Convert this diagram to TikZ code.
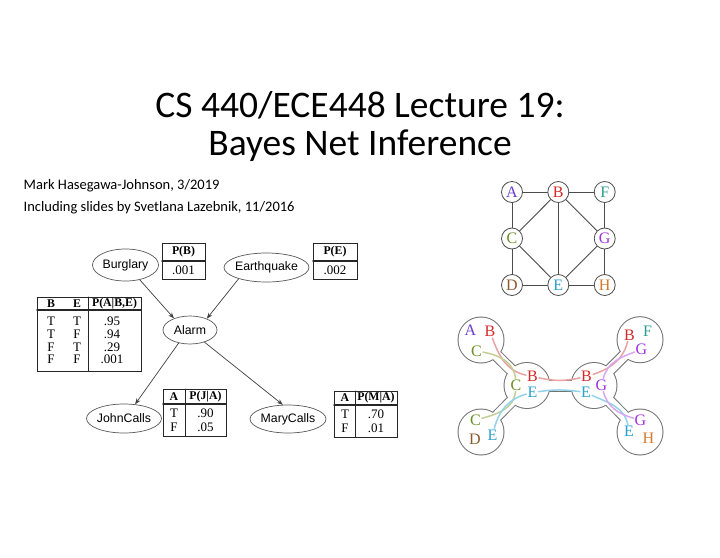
\documentclass[tikz,border=0pt]{standalone}
\usepackage{fontspec}
\setmainfont{Carlito}
\newfontfamily\bnsans{Liberation Sans}
\newfontfamily\bnserif{Liberation Serif}
\usetikzlibrary{arrows.meta,shapes.geometric}

\definecolor{letA}{HTML}{6A3FD0}
\definecolor{letB}{HTML}{D42A2A}
\definecolor{letC}{HTML}{6B8E23}
\definecolor{letD}{HTML}{8B5A2B}
\definecolor{letE}{HTML}{2AA0D0}
\definecolor{letF}{HTML}{2A9D8F}
\definecolor{letG}{HTML}{A030E0}
\definecolor{letH}{HTML}{D9782A}
\definecolor{pathB}{HTML}{E9A3A3}
\definecolor{pathC}{HTML}{C3CE95}
\definecolor{pathE}{HTML}{93D3EA}
\definecolor{pathG}{HTML}{D9A6F2}

\tikzset{
  bnvar/.style={ellipse, draw=black!65, line width=0.7pt, inner xsep=-1.5pt, inner ysep=0pt,
    font=\bnsans\fontsize{12.3}{14}\selectfont},
  bnarrow/.style={-{Stealth[length=6pt,width=4.5pt]}, black!75, line width=0.7pt},
  cpt/.style={draw=black!85, line width=0.8pt},
  cpthead/.style={inner sep=0pt, font=\bnserif\bfseries\fontsize{11.8}{12}\selectfont},
  cptval/.style={inner sep=0pt, font=\bnserif\fontsize{13}{12.7}\selectfont},
  mrfnode/.style={circle, draw=black!70, line width=0.8pt, fill=white, minimum size=21pt,
    inner sep=0pt, font=\bnserif\fontsize{16}{16}\selectfont},
  mrfedge/.style={black!70, line width=0.9pt},
  jtlet/.style={inner sep=1pt, font=\bnserif\fontsize{16}{16}\selectfont},
  jtpath/.style={line width=1.5pt, line cap=round},
}

\begin{document}
\begin{tikzpicture}[x=1pt, y=-1pt, line cap=round]
\useasboundingbox (0,0) rectangle (720,557);
\fill[white] (0,0) rectangle (720,557);

% --- titulo ---
\node[anchor=base, inner sep=0pt, font=\fontsize{37.5}{38}\selectfont] (title1) at (360,117) {CS 440/ECE448 Lecture 19:};
\node[anchor=base, inner sep=0pt, font=\fontsize{37.5}{38}\selectfont] (title2) at (360,155) {Bayes Net Inference};
\node[anchor=base west, inner sep=0pt, font=\fontsize{14.5}{16}\selectfont] (author) at (23.5,189) {Mark Hasegawa-Johnson, 3/2019};
\node[anchor=base west, inner sep=0pt, font=\fontsize{14.5}{16}\selectfont] (credit) at (23.5,211) {Including slides by Svetlana Lazebnik, 11/2016};

% --- red bayesiana ---
\node[bnvar, minimum width=66pt, minimum height=32pt] (burglary) at (125.5,265) {Burglary};
\node[bnvar, minimum width=85pt, minimum height=29pt] (earthquake) at (266.5,267.5) {Earthquake};
\node[bnvar, minimum width=54pt, minimum height=28pt] (alarm) at (190,330) {Alarm};
\node[bnvar, minimum width=75pt, minimum height=29pt] (johncalls) at (124,418.5) {JohnCalls};
\node[bnvar, minimum width=76pt, minimum height=28pt] (marycalls) at (288,419) {MaryCalls};
% flechas
\draw[bnarrow] (burglary.-46) -- (alarm.144);
\draw[bnarrow] (earthquake.202) -- (alarm.34);
\draw[bnarrow] (alarm.229) -- (johncalls.52);
\draw[bnarrow] (alarm.-40) -- (marycalls.110);

% --- tablas de probabilidad ---
\draw[cpt] (162,243) rectangle (205,279);
\draw[cpt, line width=1.4pt] (162,261) -- (205,261);
\node[cpthead] (pbhead) at (183.5,252) {P(B)};
\node[cptval] (pbval) at (183.5,270.5) {.001};

\draw[cpt] (313,243) rectangle (357,279);
\draw[cpt, line width=1.4pt] (313,261) -- (357,261);
\node[cpthead] (pehead) at (335,252) {P(E)};
\node[cptval] (peval) at (335,270.5) {.002};

\draw[cpt] (37,297) rectangle (141,371);
\draw[cpt, line width=1.4pt] (37,310) -- (141,310);
\draw[cpt] (88,297) -- (88,371);
\node[cpthead] (pahb) at (51,304) {B};
\node[cpthead] (pahe) at (77,304) {E};
\node[cpthead] (pahead) at (114.5,304) {P(A|B,E)};
\foreach \b/\e/\p [count=\i] in {T/T/.95, T/F/.94, F/T/.29, F/F/.001} {
  \node[cptval] (pab\i) at (51,309+12.6*\i) {\b};
  \node[cptval] (pae\i) at (77,309+12.6*\i) {\e};
  \node[cptval] (pap\i) at (112,309+12.6*\i) {\p};
}

\draw[cpt] (163,389) rectangle (226,436);
\draw[cpt, line width=1.4pt] (163,404) -- (226,404);
\draw[cpt] (185,389) -- (185,436);
\node[cpthead] (pjha) at (174,396.5) {A};
\node[cpthead] (pjhead) at (205.5,396.5) {P(J|A)};
\node[cptval] (pja1) at (174,413) {T};
\node[cptval] (pjp1) at (205.5,413) {.90};
\node[cptval] (pja2) at (174,427) {F};
\node[cptval] (pjp2) at (205.5,427) {.05};

\draw[cpt] (334,391) rectangle (397,437);
\draw[cpt, line width=1.4pt] (334,405) -- (397,405);
\draw[cpt] (355,391) -- (355,437);
\node[cpthead] (pmha) at (345,398) {A};
\node[cpthead] (pmhead) at (376,398) {P(M|A)};
\node[cptval] (pma1) at (345,414) {T};
\node[cptval] (pmp1) at (376,414) {.70};
\node[cptval] (pma2) at (345,428) {F};
\node[cptval] (pmp2) at (376,428) {.01};

% --- grafo no dirigido ---
\node[mrfnode, text=letA] (gA) at (512,192) {A};
\node[mrfnode, text=letB] (gB) at (558.3,192) {B};
\node[mrfnode, text=letF] (gF) at (604.7,192) {F};
\node[mrfnode, text=letC] (gC) at (512,238.5) {C};
\node[mrfnode, text=letG] (gG) at (604.7,238.5) {G};
\node[mrfnode, text=letD] (gD) at (512,285) {D};
\node[mrfnode, text=letE] (gE) at (558.3,285) {E};
\node[mrfnode, text=letH] (gH) at (604.7,285) {H};
\foreach \u/\v in {gA/gB, gB/gF, gA/gC, gC/gD, gD/gE, gE/gH, gF/gG, gG/gH,
                   gB/gC, gB/gE, gB/gG, gC/gE, gE/gG}
  \draw[mrfedge] (\u) -- (\v);

% --- arbol de uniones ---
\coordinate (jt1) at (481,340);
\coordinate (jt2) at (527,385.5);
\coordinate (jt3) at (594,385.5);
\coordinate (jt4) at (640,339.7);
\coordinate (jt5) at (481,432);
\coordinate (jt6) at (640,432);
% contorno: gris primero, blanco encima
\foreach \p in {jt1,jt2,jt3,jt4,jt5,jt6}
  \fill[black!55] (\p) circle (23.5pt);
\foreach \a/\b in {jt1/jt2, jt2/jt3, jt3/jt4, jt2/jt5, jt3/jt6}
  \draw[black!55, line width=12pt, line cap=butt] (\a) -- (\b);
\foreach \p in {jt1,jt2,jt3,jt4,jt5,jt6}
  \fill[white] (\p) circle (22.5pt);
\foreach \a/\b in {jt1/jt2, jt2/jt3, jt3/jt4, jt2/jt5, jt3/jt6}
  \draw[white, line width=10pt, line cap=butt] (\a) -- (\b);
% letras
\node[jtlet, text=letA] (j1a) at (470.5,330.5) {A};
\node[jtlet, text=letB] (j1b) at (490,331.5) {B};
\node[jtlet, text=letC] (j1c) at (476.5,351) {C};
\node[jtlet, text=letC] (j2c) at (516,385) {C};
\node[jtlet, text=letB] (j2b) at (532.5,376.5) {B};
\node[jtlet, text=letE] (j2e) at (532.5,392.5) {E};
\node[jtlet, text=letB] (j3b) at (586.5,376.5) {B};
\node[jtlet, text=letE] (j3e) at (586,392.5) {E};
\node[jtlet, text=letG] (j3g) at (601.5,385) {G};
\node[jtlet, text=letB] (j4b) at (629.5,335) {B};
\node[jtlet, text=letF] (j4f) at (647.5,331.5) {F};
\node[jtlet, text=letG] (j4g) at (641.5,349.5) {G};
\node[jtlet, text=letC] (j5c) at (475.5,420) {C};
\node[jtlet, text=letE] (j5e) at (492.5,435) {E};
\node[jtlet, text=letD] (j5d) at (475,439.5) {D};
\node[jtlet, text=letG] (j6g) at (640.5,420) {G};
\node[jtlet, text=letE] (j6e) at (629,431.5) {E};
\node[jtlet, text=letH] (j6h) at (648.5,438.5) {H};
% caminos de cada variable
\draw[jtpath, pathB] (j1b) to[out=-70, in=168] (j2b);
\draw[jtpath, pathB] (j2b) to[out=-12, in=192] (j3b);
\draw[jtpath, pathB] (j3b) to[out=18, in=-105] (j4b);
\draw[jtpath, pathC] (j1c) to[out=-10, in=95] (j2c);
\draw[jtpath, pathC] (j2c) to[out=-95, in=15] (j5c);
\draw[jtpath, pathE] (j2e) to[out=8, in=172] (j3e);
\draw[jtpath, pathE] (j2e) to[out=195, in=75] (j5e);
\draw[jtpath, pathE] (j3e) to[out=-25, in=100] (j6e);
\draw[jtpath, pathG] (j4g) to[out=200, in=75] (j3g);
\draw[jtpath, pathG] (j3g) to[out=-75, in=165] (j6g);

\end{tikzpicture}
\end{document}
